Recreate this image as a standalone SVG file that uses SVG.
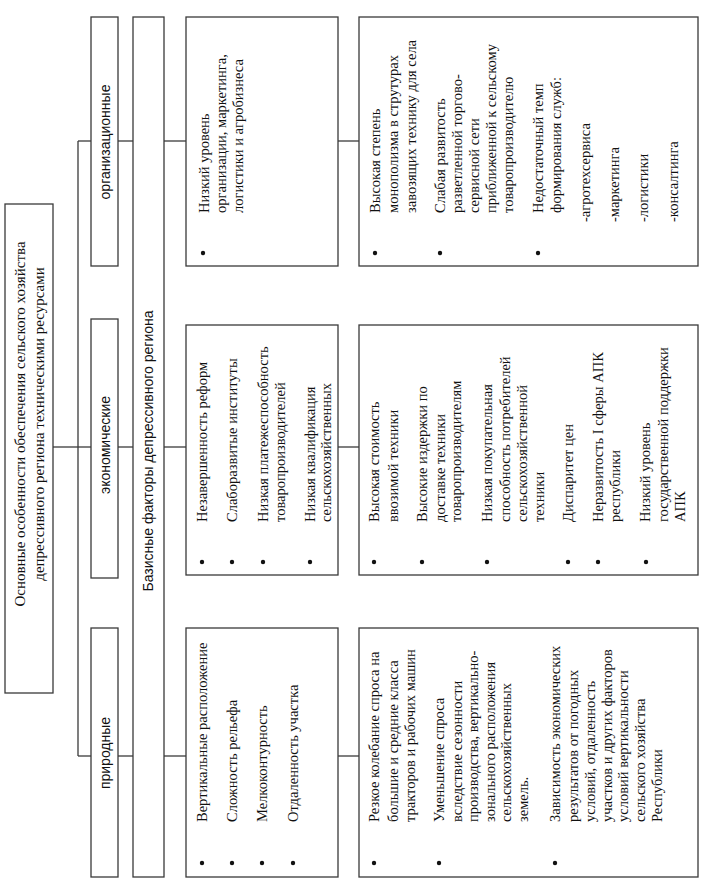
<svg xmlns="http://www.w3.org/2000/svg" width="703" height="882" viewBox="0 0 703 882">
<style>
.box{fill:#fff;stroke:#3a3a3a;stroke-width:1.3}
.ln{stroke:#3a3a3a;stroke-width:1.3;fill:none}
.s{font-family:"Liberation Sans",Arial,sans-serif;font-size:14px;fill:#111}
.r{font-family:"Liberation Serif","Times New Roman",serif;font-size:15px;fill:#111}
.t{font-family:"Liberation Serif","Times New Roman",serif;font-size:14.5px;fill:#111}
.b{fill:#111}
</style>
<rect width="703" height="882" fill="#fff"/>
<g id="connectors">
<line class="ln" x1="53" y1="447" x2="78" y2="447"/>
<line class="ln" x1="78" y1="141" x2="78" y2="756"/>
<line class="ln" x1="78" y1="141" x2="91" y2="141"/>
<line class="ln" x1="78" y1="447" x2="91" y2="447"/>
<line class="ln" x1="78" y1="756" x2="91" y2="756"/>
<line class="ln" x1="118" y1="141" x2="133" y2="141"/>
<line class="ln" x1="118" y1="447" x2="133" y2="447"/>
<line class="ln" x1="118" y1="756" x2="133" y2="756"/>
<line class="ln" x1="164" y1="141" x2="186" y2="141"/>
<line class="ln" x1="164" y1="447" x2="186" y2="447"/>
<line class="ln" x1="164" y1="756" x2="186" y2="756"/>
<line class="ln" x1="338" y1="141" x2="359" y2="141"/>
<line class="ln" x1="338" y1="447" x2="359" y2="447"/>
<line class="ln" x1="338" y1="756" x2="359" y2="756"/>
</g>
<g id="root">
<rect class="box" x="5" y="204" width="48" height="489"/>
<text class="r" text-anchor="middle" transform="translate(25,424) rotate(-90)">Основные особенности обеспечения сельского хозяйства</text>
<text class="r" text-anchor="middle" transform="translate(44,424) rotate(-90)">депрессивного региона техническими ресурсами</text>
</g>
<g id="cat-org">
<rect class="box" x="91" y="17" width="27" height="249"/>
<text class="s" text-anchor="middle" transform="translate(110,142) rotate(-90)">организационные</text>
</g>
<g id="cat-econ">
<rect class="box" x="91" y="319" width="27" height="259"/>
<text class="s" text-anchor="middle" transform="translate(110,445) rotate(-90)">экономические</text>
</g>
<g id="cat-nat">
<rect class="box" x="91" y="628" width="27" height="249"/>
<text class="s" text-anchor="middle" transform="translate(110,753) rotate(-90)">природные</text>
</g>
<g id="base">
<rect class="box" x="133" y="17" width="31" height="860"/>
<text class="s" text-anchor="middle" transform="translate(153,451) rotate(-90)">Базисные факторы депрессивного региона</text>
</g>
<g id="org-1">
<rect class="box" x="186" y="17" width="152" height="249"/>
<circle class="b" cx="203" cy="253" r="2.2"/>
<text class="t" transform="translate(209,213) rotate(-90)">Низкий уровень</text>
<text class="t" transform="translate(226,213) rotate(-90)">организации, маркетинга,</text>
<text class="t" transform="translate(243,213) rotate(-90)">логистики и агробизнеса</text>
</g>
<g id="econ-1">
<rect class="box" x="186" y="325" width="152" height="250"/>
<circle class="b" cx="202" cy="562" r="2.2"/>
<circle class="b" cx="232" cy="562" r="2.2"/>
<circle class="b" cx="263" cy="562" r="2.2"/>
<circle class="b" cx="310" cy="562" r="2.2"/>
<text class="t" transform="translate(207,522) rotate(-90)">Незавершенность реформ</text>
<text class="t" transform="translate(237,522) rotate(-90)">Слаборазвитые институты</text>
<text class="t" transform="translate(268,522) rotate(-90)">Низкая платежеспособность</text>
<text class="t" transform="translate(285,522) rotate(-90)">товаропроизводителей</text>
<text class="t" transform="translate(315,522) rotate(-90)">Низкая квалификация</text>
<text class="t" transform="translate(331,522) rotate(-90)">сельскохозяйственных</text>
</g>
<g id="nat-1">
<rect class="box" x="186" y="628" width="152" height="249"/>
<circle class="b" cx="202" cy="863" r="2.2"/>
<circle class="b" cx="232" cy="863" r="2.2"/>
<circle class="b" cx="262" cy="863" r="2.2"/>
<circle class="b" cx="293" cy="863" r="2.2"/>
<text class="t" transform="translate(207,822) rotate(-90)">Вертикальные расположение</text>
<text class="t" transform="translate(237,822) rotate(-90)">Сложность рельефа</text>
<text class="t" transform="translate(267,822) rotate(-90)">Мелкоконтурность</text>
<text class="t" transform="translate(298,822) rotate(-90)">Отдаленность участка</text>
</g>
<g id="org-2">
<rect class="box" x="359" y="17" width="339" height="249"/>
<circle class="b" cx="375" cy="253" r="2.2"/>
<circle class="b" cx="440" cy="253" r="2.2"/>
<circle class="b" cx="538" cy="253" r="2.2"/>
<text class="t" transform="translate(380,213) rotate(-90)">Высокая степень</text>
<text class="t" transform="translate(398,213) rotate(-90)">монополизма в струтурах</text>
<text class="t" transform="translate(416,213) rotate(-90)">завозящих технику для села</text>
<text class="t" transform="translate(445,213) rotate(-90)">Слабая развитость</text>
<text class="t" transform="translate(462,213) rotate(-90)">разветленной торгово-</text>
<text class="t" transform="translate(479,213) rotate(-90)">сервисной сети</text>
<text class="t" transform="translate(496,213) rotate(-90)">приближенной к сельскому</text>
<text class="t" transform="translate(513,213) rotate(-90)">товаропроизводителю</text>
<text class="t" transform="translate(543,213) rotate(-90)">Недостаточный темп</text>
<text class="t" transform="translate(561,213) rotate(-90)">формирования служб:</text>
<text class="t" transform="translate(590,222) rotate(-90)">-агротехсервиса</text>
<text class="t" transform="translate(619,222) rotate(-90)">-маркетинга</text>
<text class="t" transform="translate(648,222) rotate(-90)">-логистики</text>
<text class="t" transform="translate(678,222) rotate(-90)">-консалтинга</text>
</g>
<g id="econ-2">
<rect class="box" x="359" y="325" width="339" height="250"/>
<circle class="b" cx="374" cy="562" r="2.2"/>
<circle class="b" cx="422" cy="562" r="2.2"/>
<circle class="b" cx="487" cy="562" r="2.2"/>
<circle class="b" cx="568" cy="562" r="2.2"/>
<circle class="b" cx="598" cy="562" r="2.2"/>
<circle class="b" cx="646" cy="562" r="2.2"/>
<text class="t" transform="translate(379,522) rotate(-90)">Высокая стоимость</text>
<text class="t" transform="translate(398,522) rotate(-90)">ввозимой техники</text>
<text class="t" transform="translate(427,522) rotate(-90)">Высокие издержки по</text>
<text class="t" transform="translate(445,522) rotate(-90)">доставке техники</text>
<text class="t" transform="translate(461,522) rotate(-90)">товаропроизводителям</text>
<text class="t" transform="translate(492,522) rotate(-90)">Низкая покупательная</text>
<text class="t" transform="translate(510,522) rotate(-90)">способность потребителей</text>
<text class="t" transform="translate(527,522) rotate(-90)">сельскохозяйственной</text>
<text class="t" transform="translate(544,522) rotate(-90)">техники</text>
<text class="t" transform="translate(573,522) rotate(-90)">Диспаритет цен</text>
<text class="t" transform="translate(603,522) rotate(-90)">Неразвитость I сферы АПК</text>
<text class="t" transform="translate(620,522) rotate(-90)">республики</text>
<text class="t" transform="translate(650,522) rotate(-90)">Низкий уровень</text>
<text class="t" transform="translate(668,522) rotate(-90)">государственной поддержки</text>
<text class="t" transform="translate(685,522) rotate(-90)">АПК</text>
</g>
<g id="nat-2">
<rect class="box" x="359" y="628" width="339" height="249"/>
<circle class="b" cx="374" cy="863" r="2.2"/>
<circle class="b" cx="439" cy="863" r="2.2"/>
<circle class="b" cx="555" cy="863" r="2.2"/>
<text class="t" transform="translate(379,822) rotate(-90)">Резкое колебание спроса на</text>
<text class="t" transform="translate(398,822) rotate(-90)">большие и средние класса</text>
<text class="t" transform="translate(415,822) rotate(-90)">тракторов и рабочих машин</text>
<text class="t" transform="translate(444,822) rotate(-90)">Уменьшение спроса</text>
<text class="t" transform="translate(462,822) rotate(-90)">вследствие сезонности</text>
<text class="t" transform="translate(478,822) rotate(-90)">производства, вертикально-</text>
<text class="t" transform="translate(495,822) rotate(-90)">зонального расположения</text>
<text class="t" transform="translate(511,822) rotate(-90)">сельскохозяйственных</text>
<text class="t" transform="translate(528,822) rotate(-90)">земель.</text>
<text class="t" transform="translate(560,822) rotate(-90)">Зависимость экономических</text>
<text class="t" transform="translate(578,822) rotate(-90)">результатов от погодных</text>
<text class="t" transform="translate(595,822) rotate(-90)">условий, отдаленность</text>
<text class="t" transform="translate(612,822) rotate(-90)">участков и других факторов</text>
<text class="t" transform="translate(628,822) rotate(-90)">условий вертикальности</text>
<text class="t" transform="translate(645,822) rotate(-90)">сельского хозяйства</text>
<text class="t" transform="translate(662,822) rotate(-90)">Республики</text>
</g>
</svg>
